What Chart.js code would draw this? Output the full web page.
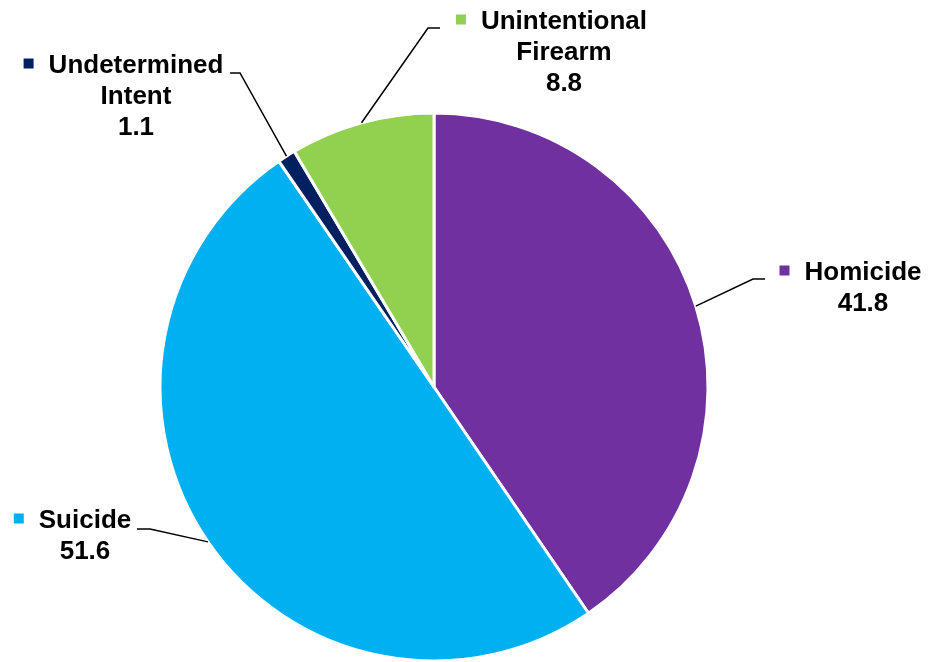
<!DOCTYPE html>
<html>
<head>
<meta charset="utf-8">
<script src="https://cdn.jsdelivr.net/npm/chart.js@4"></script>
<style>
  html, body { margin: 0; padding: 0; background: #fff; }
  #wrap { width: 928px; height: 662px; }
</style>
</head>
<body>
<div id="wrap"><canvas id="myChart"></canvas></div>
<script>
const categories = ['Homicide', 'Suicide', 'Undetermined Intent', 'Unintentional Firearm']
const rates = [41.8, 51.6, 1.1, 8.8]
const colors = ['#7030A0', '#00B0F0', '#002060', '#92D050']

// where each label block sits: text centre x, first baseline y, elbow of the leader, end of the leader
const labelSpots = [
    { cx: 863, y: 280, elbow: [753, 279], end: [765, 279] },
    { cx: 85,  y: 528, elbow: [150, 529], end: [137, 529] },
    { cx: 136, y: 73,  elbow: [240, 73],  end: [230, 73] },
    { cx: 564, y: 29,  elbow: [428, 28],  end: [440, 28] },
]

const calloutLabels = {
    id: 'calloutLabels',
    afterDatasetsDraw(chart) {
        const c = chart.ctx
        const meta = chart.getDatasetMeta(0)
        const values = chart.data.datasets[0].data
        c.save()
        meta.data.forEach((arc, i) => {
            const p = arc.getProps(['x', 'y', 'startAngle', 'endAngle', 'outerRadius'], true)
            const mid = (p.startAngle + p.endAngle) / 2
            const sx = p.x + Math.cos(mid) * p.outerRadius
            const sy = p.y + Math.sin(mid) * p.outerRadius
            const spot = labelSpots[i]

            // leader line
            c.strokeStyle = '#000'
            c.lineWidth = 1.5
            c.beginPath()
            c.moveTo(sx, sy)
            c.lineTo(spot.elbow[0], spot.elbow[1])
            c.lineTo(spot.end[0], spot.end[1])
            c.stroke()

            // label text, centred lines
            const lines = chart.data.labels[i].split(' ').concat(values[i].toFixed(1))
            c.font = 'bold 26px "Liberation Sans", Arial, sans-serif'
            c.fillStyle = '#000'
            c.textAlign = 'center'
            c.textBaseline = 'alphabetic'
            lines.forEach((t, k) => c.fillText(t, spot.cx, spot.y + k * 31))

            // colour key square before the first line
            const w = c.measureText(lines[0]).width
            const left = spot.cx - w / 2
            c.fillStyle = colors[i]
            c.fillRect(left - 25, spot.y - 14.5, 10, 10)
        })
        c.restore()
    }
}

const config = {
    type: 'pie',
    data: {
        labels: categories,
        datasets: [{
            data: rates,
            backgroundColor: colors,
            borderColor: '#ffffff',
            borderWidth: 3,
            hoverOffset: 0,
        }]
    },
    options: {
        responsive: true,
        maintainAspectRatio: false,
        animation: false,
        radius: 274,
        layout: {
            padding: { left: 160, right: 220, top: 113, bottom: 1 }
        },
        plugins: {
            legend: { display: false },
            tooltip: { enabled: false },
        }
    },
    plugins: [calloutLabels]
}

new Chart(document.getElementById('myChart'), config)
</script>
</body>
</html>
